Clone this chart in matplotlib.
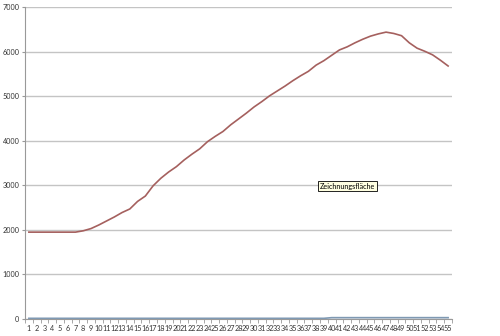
import matplotlib
matplotlib.use("Agg")
import matplotlib.pyplot as plt
import numpy as np

categories = [str(i) for i in range(1, 56)]
series_red = [1950, 1950, 1950, 1950, 1950, 1950, 1950, 1980, 2030, 2110,
              2200, 2290, 2390, 2470, 2640, 2760, 2990, 3160, 3300, 3420,
              3570, 3700, 3820, 3980, 4100, 4210, 4360, 4490, 4620, 4760,
              4880, 5010, 5120, 5230, 5350, 5460, 5560, 5700, 5800, 5920,
              6040, 6110, 6200, 6280, 6350, 6400, 6440, 6410, 6360, 6200,
              6080, 6010, 5930, 5810, 5680]
series_blue = [15] * 39 + [30] * 16
y_ticks = [0, 1000, 2000, 3000, 4000, 5000, 6000, 7000]

plt.rcParams['font.family'] = ['Lato', 'DejaVu Sans']

fig = plt.figure(figsize=(5, 3.36), dpi=100)
ax = fig.add_axes([0.05, 0.0506, 0.854, 0.928])

x = np.arange(1, len(categories) + 1)
ax.plot(x, series_blue, color='#7f99b3', lw=1.2, zorder=3)
ax.plot(x, series_red, color='#a5605e', lw=1.2, zorder=3)

ax.set_xlim(0.5, len(categories) + 0.5)
ax.set_ylim(0, 7000)
ax.set_yticks(y_ticks)
ax.set_yticklabels([str(v) for v in y_ticks], fontsize=5.2, color='#333333')
ax.set_xticks(x)
ax.set_xticklabels(categories, fontsize=5.2, color='#333333')
ax.set_xticks(np.arange(0.5, len(categories) + 1, 1), minor=True)
ax.tick_params(axis='x', which='major', length=0, pad=4)
ax.tick_params(axis='x', which='minor', length=3, color='#999999', direction='out')
ax.tick_params(axis='y', which='major', length=2.5, color='#999999', pad=1.5)

ax.grid(axis='y', color='#c4c4c4', lw=1.0, zorder=0)
for s in ['top', 'right']:
    ax.spines[s].set_visible(False)
for s in ['left', 'bottom']:
    ax.spines[s].set_color('#999999')
    ax.spines[s].set_linewidth(0.8)

ax.text(0.695, 0.446, 'Zeichnungsfläche', transform=fig.transFigure,
        fontsize=5.2, color='black', ha='center', va='center',
        bbox=dict(boxstyle='square,pad=0.25', fc='#ffffe1', ec='black', lw=0.6))

fig.savefig('out.png', dpi=100)
